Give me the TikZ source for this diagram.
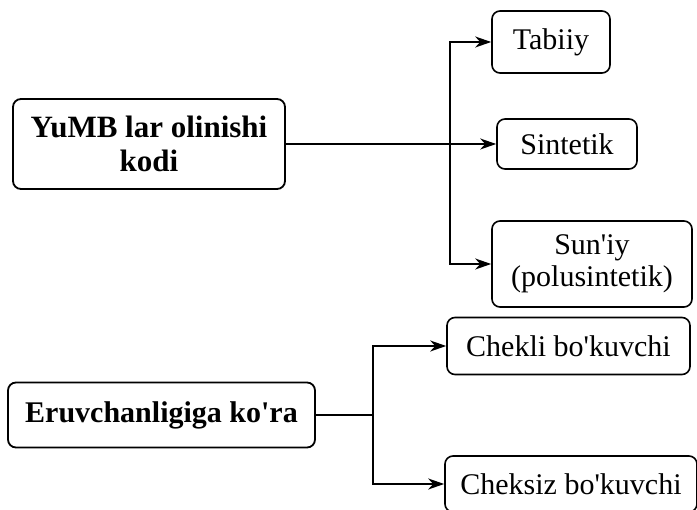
\documentclass[tikz,border=0pt]{standalone}
\usepackage{fontspec}
\setmainfont{Liberation Serif}
\usepackage{tikz}
\usetikzlibrary{positioning,arrows.meta}
\tikzset{
    every node/.style={font=\fontsize{30}{32}\selectfont},
    headbox/.style={rounded corners=8pt,draw,line width=1.8pt,align=center,inner sep=2pt,font=\fontsize{30}{34}\selectfont\bfseries},
    kindbox/.style={rounded corners=8pt,draw,line width=1.6pt,align=center,inner sep=2pt},
    link/.style={line width=1.8pt},
    arr/.style={link,-{Stealth[length=16pt,width=11pt,inset=5pt]}}
}

\begin{document}
\begin{tikzpicture}[x=1pt,y=1pt]
    \useasboundingbox (0,0) rectangle (697,-510);
    % upper group
    \node[headbox,minimum width=272pt,minimum height=90pt,font=\fontsize{31}{34}\selectfont\bfseries] (yumb) at (149,-144) {YuMB lar olinishi\\kodi};
    \node[kindbox,minimum width=118pt,minimum height=62pt] (tabiiy) at (551,-42) {Tabiiy};
    \node[kindbox,minimum width=140pt,minimum height=50pt] (sintetik) at (567,-144) {Sintetik};
    \node[kindbox,minimum width=200pt,minimum height=86pt] (suniy) at (592,-264) {Sun\textquotesingle iy\\(polusintetik)};
    \coordinate (ja) at (450,-144);
    \draw[arr] (yumb.east)--(sintetik.west);
    \draw[arr] (ja) |- (tabiiy.west);
    \draw[arr] (ja) |- (suniy.west);
    % lower group
    \node[headbox,minimum width=307pt,minimum height=65pt] (eruv) at (161.5,-415) {Eruvchanligiga ko\textquotesingle ra};
    \node[kindbox,minimum width=243pt,minimum height=57pt] (chekli) at (568.5,-346) {Chekli bo\textquotesingle kuvchi};
    \node[kindbox,minimum width=252pt,minimum height=56pt] (cheksiz) at (571,-484) {Cheksiz bo\textquotesingle kuvchi};
    \coordinate (jb) at (373,-415);
    \draw[link] (eruv.east)--(jb);
    \draw[arr] (jb) |- (chekli.west);
    \draw[arr] (jb) |- (cheksiz.west);
\end{tikzpicture}
\end{document}
